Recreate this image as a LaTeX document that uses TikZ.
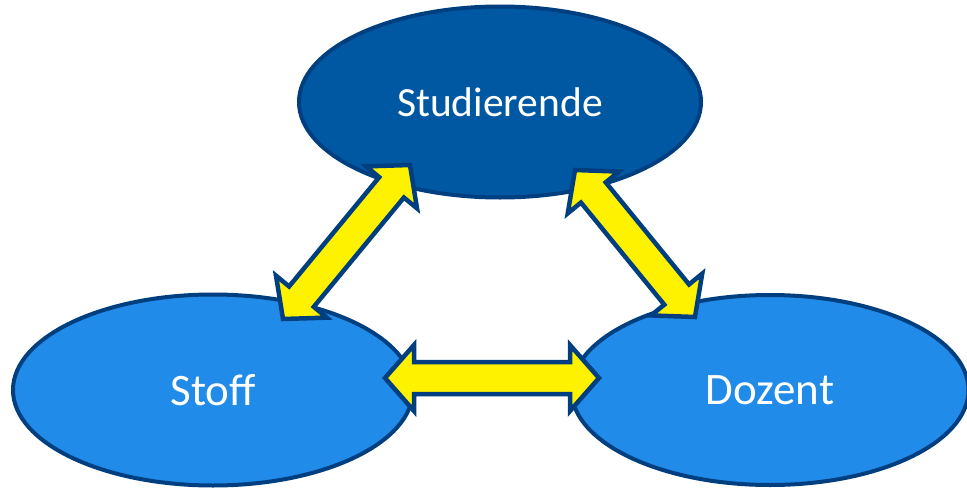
\documentclass[tikz,border=0pt]{standalone}
\usepackage{fontspec}
\setmainfont{Carlito}
\usepackage{xcolor}
\definecolor{navy}{HTML}{003F7F}
\definecolor{darkb}{HTML}{0058A3}
\definecolor{lightb}{HTML}{218BE9}
\usepackage{tikz}
\usetikzlibrary{shapes.geometric, calc}

% block arrow between two named points
\newcommand{\blockarrow}[2]{%
    \draw[blockarrow] (#1)
    -- ($(#1)!29pt!(#2)!33pt!90:(#2)$)
    -- ($(#1)!29pt!(#2)!16pt!90:(#2)$)
    -- ($(#2)!29pt!(#1)!16pt!-90:(#1)$)
    -- ($(#2)!29pt!(#1)!33pt!-90:(#1)$)
    -- (#2)
    -- ($(#2)!29pt!(#1)!33pt!90:(#1)$)
    -- ($(#2)!29pt!(#1)!16pt!90:(#1)$)
    -- ($(#1)!29pt!(#2)!16pt!-90:(#2)$)
    -- ($(#1)!29pt!(#2)!33pt!-90:(#2)$)
    -- cycle;
}

\begin{document}
\begin{tikzpicture}[
    x=1pt, y=-1pt,
    topic/.style={ellipse, draw=navy, line width=4pt, text=white, inner sep=0pt},
    blockarrow/.style={draw=navy, fill=yellow, line width=4.5pt, line join=miter}
    ]

    \useasboundingbox (0,0) rectangle (967,490);

    \node[topic, fill=darkb, minimum width=402pt, minimum height=191pt,
        font=\fontsize{41.5}{48}\selectfont] (stud) at (500,102) {Studierende};
    \node[topic, fill=lightb, minimum width=400pt, minimum height=191pt,
        font=\fontsize{45}{52}\selectfont] (stoff) at (213,390) {Stoff};
    \node[topic, fill=lightb, minimum width=397pt, minimum height=190pt,
        font=\fontsize{45}{52}\selectfont] (doz) at (770,390) {Dozent};

    \coordinate (sa) at (410,165);
    \coordinate (sb) at (283,319);
    \coordinate (da) at (575,170);
    \coordinate (db) at (695,317);
    \coordinate (ma) at (385,378);
    \coordinate (mb) at (599,378);

    \blockarrow{sa}{sb}
    \blockarrow{da}{db}
    \blockarrow{ma}{mb}
\end{tikzpicture}
\end{document}
